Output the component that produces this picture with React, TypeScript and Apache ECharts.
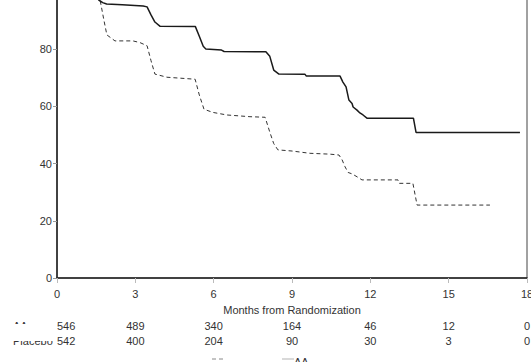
import React, { useEffect, useRef } from "react";
import * as echarts from "echarts";

const months = [0, 3, 6, 9, 12, 15, 18];
const atRiskAA = [546, 489, 340, 164, 46, 12, 0];
const atRiskPlacebo = [542, 400, 204, 90, 30, 3, 0];
const rowLabels = ["AA", "Placebo"];

const aaCurve: [number, number][] = [
  [0, 100], [1.5, 100], [1.6, 97.2], [1.75, 96.3], [1.9, 95.8], [2.5, 95.5], [3.3, 95.1],
  [3.45, 94.8], [3.6, 92], [3.75, 89.5], [3.95, 88], [5.3, 87.9], [5.45, 84.5], [5.6, 81],
  [5.7, 80.1], [6.3, 79.7], [6.4, 79.2], [8.0, 79.1], [8.15, 77.5], [8.3, 72.7], [8.5, 71.3],
  [9.5, 71.2], [9.55, 70.6], [10.84, 70.6], [10.95, 68.5], [11.07, 66.8], [11.18, 62.2],
  [11.3, 61], [11.34, 59.8], [11.49, 58.7], [11.6, 57.7], [11.72, 57.0], [11.87, 55.9],
  [13.65, 55.9], [13.75, 50.9], [17.73, 50.9],
];

const placeboCurve: [number, number][] = [
  [0, 100], [1.5, 100], [1.65, 97.2], [1.8, 90], [1.91, 85], [2.22, 82.9], [2.91, 82.9],
  [3.18, 82.3], [3.45, 81.2], [3.6, 76], [3.75, 71.3], [4.21, 70.2], [5.29, 69.5], [5.45, 64],
  [5.63, 59], [5.97, 57.9], [6.51, 57.0], [7.39, 56.4], [7.97, 56.2], [8.15, 51], [8.3, 47],
  [8.46, 44.8], [9.0, 44.4], [9.69, 43.6], [10.46, 43.3], [10.8, 43.0], [10.92, 41.3],
  [11.03, 38.9], [11.15, 36.9], [11.3, 36.4], [11.49, 35.4], [11.68, 34.3], [13.06, 34.3],
  [13.1, 33.1], [13.63, 33.1], [13.79, 25.5], [16.58, 25.5],
];

const FONT = "Arial, 'Liberation Sans', sans-serif";
const TXT = "#333";

export default function App() {
  const ref = useRef<HTMLDivElement>(null);
  useEffect(() => {
    if (!ref.current) return;
    const chart = echarts.init(ref.current, undefined, { renderer: "svg" });
    chart.setOption({
      animation: false,
      grid: {
        left: 57, right: 4, top: 12, bottom: 84,
        outerBoundsMode: "none", containLabel: false,
        show: true, borderColor: "#444", borderWidth: 1, backgroundColor: "transparent",
      },
      xAxis: {
        type: "value", min: 0, max: 18, interval: 3,
        name: "Months from Randomization", nameLocation: "middle", nameGap: 26,
        nameTextStyle: { fontFamily: FONT, fontSize: 11, color: TXT },
        axisLine: { show: true, lineStyle: { color: "#222", width: 1.5 } },
        axisTick: { show: true, length: 5, lineStyle: { color: "#bbb" } },
        axisLabel: { fontFamily: FONT, fontSize: 11, color: TXT, margin: 10 },
        splitLine: { show: false },
      },
      yAxis: {
        type: "value", min: 0, max: 100, interval: 20,
        axisLine: { show: true, lineStyle: { color: "#222", width: 1.5 } },
        axisTick: { show: true, length: 4, lineStyle: { color: "#999" } },
        axisLabel: { fontFamily: FONT, fontSize: 11, color: TXT, margin: 5 },
        splitLine: { show: false },
      },
      series: [
        {
          name: "AA", type: "line", data: aaCurve, showSymbol: false, symbol: "none",
          lineStyle: { color: "#1a1a1a", width: 1.5 }, z: 3,
        },
        {
          name: "Placebo", type: "line", data: placeboCurve, showSymbol: false, symbol: "none",
          lineStyle: { color: "#333", width: 1, type: [4, 3] }, z: 2,
        },
      ],
    });

    const graphics: any[] = [];
    const rows = [atRiskAA, atRiskPlacebo];
    const rowY = [346, 361];
    rows.forEach((vals, r) => {
      vals.forEach((v, i) => {
        const px = chart.convertToPixel({ xAxisIndex: 0 }, months[i]) as number;
        graphics.push({
          type: "text", x: px, y: rowY[r],
          style: {
            text: String(v), fontFamily: FONT, fontSize: 11, fill: TXT,
            align: i === 0 ? "left" : "center", verticalAlign: "middle",
          },
        });
      });
      graphics.push({
        type: "text", x: 13, y: rowY[r],
        style: { text: rowLabels[r], fontFamily: FONT, fontSize: 11, fill: TXT, align: "left", verticalAlign: "middle" },
      });
    });
    graphics.push({
      type: "rect", shape: { x: 0, y: 344, width: 54, height: 17 },
      style: { fill: "#fff" }, z: 10,
    });
    graphics.push({
      type: "line", shape: { x1: 212, y1: 379, x2: 226, y2: 379 },
      style: { stroke: "#888", lineWidth: 1, lineDash: [4, 3] },
    });
    graphics.push({
      type: "line", shape: { x1: 282, y1: 379, x2: 294, y2: 379 },
      style: { stroke: "#ccc", lineWidth: 1.5 },
    });
    graphics.push({
      type: "text", x: 294, y: 382,
      style: { text: "AA", fontFamily: FONT, fontSize: 11, fill: TXT, align: "left", verticalAlign: "middle" },
    });
    chart.setOption({ graphic: graphics });

    return () => chart.dispose();
  }, []);
  return (
    <div
      ref={ref}
      style={{ position: "absolute", left: 0, top: -20, width: 531, height: 382 }}
    />
  );
}
